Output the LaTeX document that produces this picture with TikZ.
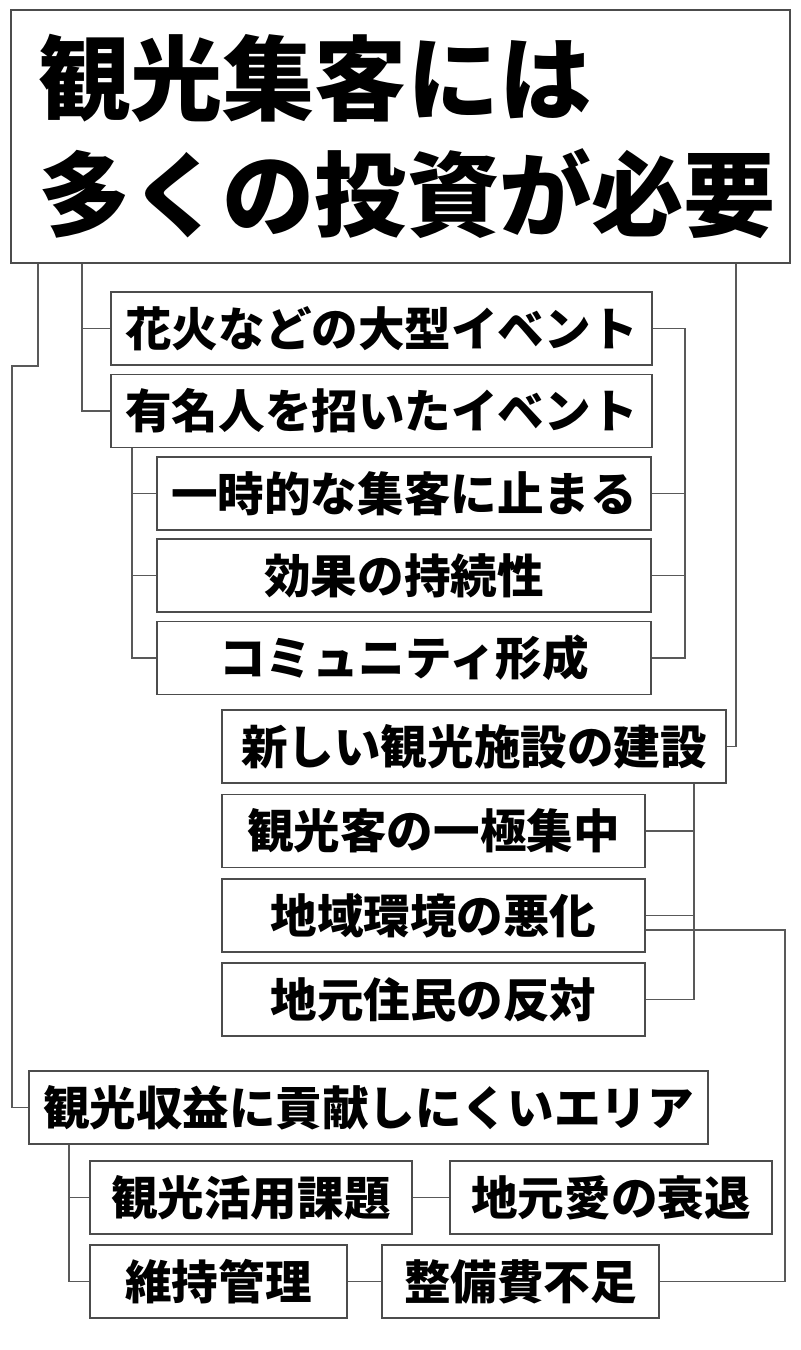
\documentclass[tikz,border=0pt]{standalone}
\usepackage{fontspec}
\newfontfamily\jp{Noto Sans CJK JP}
\tikzset{
  box/.style={draw=black!70, line width=0.9pt, fill=white, inner sep=0pt,
    minimum height=1.46cm, font=\jp\bfseries\fontsize{26.5}{30}\selectfont},
  headbox/.style={draw=black!70, line width=0.9pt, inner xsep=0.54cm, inner ysep=0pt,
    minimum height=5.06cm, text width=14.5cm, align=left,
    font=\jp\bfseries\fontsize{52.5}{66}\selectfont},
  link/.style={draw=black!65, line width=0.6pt}
}

\begin{document}
\begin{tikzpicture}[x=0.02cm, y=-0.02cm]
    \useasboundingbox (0,0) rectangle (801,1350);

    % main question
    \node [headbox] (title) at (400.5,136.5) {\raisebox{-0.12cm}{観光集客には}\\\raisebox{-0.12cm}{多くの投資が必要}};

    % events
    \node [box, minimum width=10.82cm] (fireworks) at (381.5,328.5) {花火などの大型イベント};
    \node [box, minimum width=10.82cm] (celeb)     at (381.5,411)   {有名人を招いたイベント};
    \node [box, minimum width=9.88cm]  (temp)      at (404,493.5)   {一時的な集客に止まる};
    \node [box, minimum width=9.88cm]  (lasting)   at (404,575.5)   {効果の持続性};
    \node [box, minimum width=9.88cm]  (community) at (404,658)     {コミュニティ形成};

    % facilities
    \node [box, minimum width=10.08cm] (facility)    at (474,746.5)   {新しい観光施設の建設};
    \node [box, minimum width=8.46cm]  (concentrate) at (433.5,831)   {観光客の一極集中};
    \node [box, minimum width=8.46cm]  (environ)     at (433.5,915.5) {地域環境の悪化};
    \node [box, minimum width=8.46cm]  (oppose)      at (433.5,999.5) {地元住民の反対};

    % low revenue areas
    \node [box, minimum width=13.58cm] (lowrev)    at (368.5,1107.5) {観光収益に貢献しにくいエリア};
    \node [box, minimum width=6.44cm]  (usage)     at (251,1197.5)   {観光活用課題};
    \node [box, minimum width=6.44cm]  (localLove) at (611,1197.5)   {地元愛の衰退};
    \node [box, minimum width=5.14cm]  (maintain)  at (218.5,1281.5) {維持管理};
    \node [box, minimum width=5.54cm]  (budget)    at (520.5,1281.5) {整備費不足};

    % bus lines
    \coordinate (l0) at (12,366);
    \coordinate (l1) at (38,0);
    \coordinate (l2) at (82,0);
    \coordinate (l3) at (132,0);
    \coordinate (l4) at (69,0);
    \coordinate (r1) at (685,0);
    \coordinate (r2) at (736,0);
    \coordinate (r3) at (694,0);
    \coordinate (r4) at (785,0);

    \draw [link] (title.south -| l1) |- (l0) |- (lowrev.west);
    \draw [link] (title.south -| l2) |- (celeb.west);
    \draw [link] (l2 |- fireworks.west) -- (fireworks.west);
    \draw [link] (fireworks.east) -| (r1 |- community.east) -- (community.east);
    \draw [link] (r1 |- temp.east) -- (temp.east);
    \draw [link] (r1 |- lasting.east) -- (lasting.east);
    \draw [link] (title.south -| r2) |- (facility.east);

    \draw [link] (celeb.south -| l3) |- (community.west);
    \draw [link] (l3 |- temp.west) -- (temp.west);
    \draw [link] (l3 |- lasting.west) -- (lasting.west);

    \draw [link] (facility.south -| r3) |- (oppose.east);
    \draw [link] (r3 |- concentrate.east) -- (concentrate.east);
    \draw [link] (r3 |- environ.east) -- (environ.east);
    \draw [link] ([yshift=-0.29cm]environ.east) -| (r4 |- budget.east) -- (budget.east);

    \draw [link] (lowrev.south -| l4) |- (maintain.west);
    \draw [link] (l4 |- usage.west) -- (usage.west);
    \draw [link] (usage) -- (localLove);
    \draw [link] (maintain) -- (budget);
\end{tikzpicture}
\end{document}
